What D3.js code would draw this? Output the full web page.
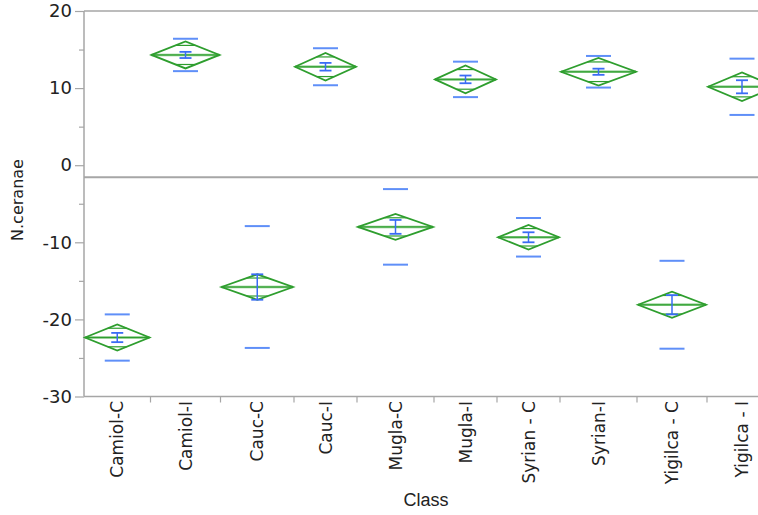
<!DOCTYPE html>
<html><head><meta charset="utf-8">
<script src="https://cdn.jsdelivr.net/npm/d3@7"></script>
<style>body{margin:0;background:#fff}svg{display:block}</style>
</head><body>
<script>
const categories = ["Camiol-C","Camiol-I","Cauc-C","Cauc-I","Mugla-C","Mugla-I","Syrian - C","Syrian-I","Yigilca - C","Yigilca - I"];
const groupN   = [19, 20, 21, 18, 22, 18, 18, 22, 20, 20];
const means    = [-22.35, 14.3, -15.8, 12.77, -8.0, 11.13, -9.35, 12.12, -18.1, 10.17];
const ciHalf   = [1.7, 1.75, 1.65, 1.8, 1.67, 1.8, 1.6, 1.8, 1.7, 1.85];
const seHalf   = [0.6, 0.4, 1.65, 0.5, 0.9, 0.5, 0.65, 0.4, 1.25, 0.85];
const sdHalf   = [3.0, 2.1, 7.9, 2.4, 4.9, 2.3, 2.5, 2.05, 5.7, 3.65];
const grandMean = -1.55;
const yTicks = [-30, -20, -10, 0, 10, 20];
const yMinorTicks = [-25, -15, -5, 5, 15];

const W = 758, H = 515;
const svg = d3.select("body").append("svg").attr("width", W).attr("height", H);

const total = d3.sum(groupN);
const x = d3.scaleLinear().domain([0, total]).range([84, 777]);
const y = d3.scaleLinear().domain([-30, 20]).range([396.5, 11]);
const cum = [0]; groupN.forEach((n,i)=>cum.push(cum[i]+n));

const gray = "#a6a6a6";
// frame
svg.append("line").attr("x1",84).attr("x2",W).attr("y1",y(20)).attr("y2",y(20)).attr("stroke",gray).attr("stroke-width",1.5);
svg.append("line").attr("x1",84).attr("x2",W).attr("y1",y(-30)).attr("y2",y(-30)).attr("stroke",gray).attr("stroke-width",1.5);
svg.append("line").attr("x1",84).attr("x2",84).attr("y1",y(20)).attr("y2",y(-30)).attr("stroke",gray).attr("stroke-width",1.5);
// grand mean
svg.append("line").attr("x1",84).attr("x2",W).attr("y1",y(grandMean)).attr("y2",y(grandMean)).attr("stroke",gray).attr("stroke-width",2);

// y axis
const yAxis = d3.axisLeft(y).tickValues(yTicks).tickSize(9).tickPadding(3).tickFormat(d=>String(d));
const ga = svg.append("g").attr("transform","translate(84,0)").call(yAxis);
ga.select(".domain").remove();
ga.selectAll(".tick line").attr("stroke",gray).attr("stroke-width",1.2);
ga.selectAll(".tick text").attr("font-family","DejaVu Sans").attr("font-size",18).attr("fill","#222");
svg.append("g").attr("transform","translate(84,0)")
  .call(d3.axisLeft(y).tickValues(yMinorTicks).tickSize(5).tickFormat(""))
  .call(g=>g.select(".domain").remove())
  .selectAll(".tick line").attr("stroke",gray).attr("stroke-width",1.2);

// x ticks at boundaries
svg.append("g").selectAll("line").data(cum.slice(1)).join("line")
  .attr("x1",d=>x(d)).attr("x2",d=>x(d)).attr("y1",y(-30)).attr("y2",y(-30)+6)
  .attr("stroke",gray).attr("stroke-width",1.2);
// x labels
svg.append("g").selectAll("text").data(categories).join("text")
  .attr("transform",(d,i)=>`translate(${x((cum[i]+cum[i+1])/2)+6},401) rotate(-90)`)
  .attr("text-anchor","end").attr("font-family","DejaVu Sans").attr("font-size",17).attr("fill","#222")
  .text(d=>d);

svg.append("text").attr("x",426).attr("y",506).attr("text-anchor","middle")
  .attr("font-family","Liberation Sans Narrow, Liberation Sans").attr("font-size",18).attr("fill","#222").text("Class");
svg.append("text").attr("transform","translate(23,200) rotate(-90)").attr("text-anchor","middle")
  .attr("font-family","DejaVu Sans").attr("font-size",16).attr("fill","#222").text("N.ceranae");

// groups
const green = "#2e9e2e", blue = "#3a6cf4", lblue = "#5f8ff8";
categories.forEach((c,i)=>{
  const x0 = x(cum[i])+1, x1 = x(cum[i+1])-1, cx = (x0+x1)/2, hw = (x1-x0)/2;
  const m = means[i], ci = ciHalf[i];
  const g = svg.append("g");
  // mean line
  g.append("line").attr("x1",x0).attr("x2",x1).attr("y1",y(m)).attr("y2",y(m)).attr("stroke","#7cc67c").attr("stroke-width",2.5);
  g.append("line").attr("x1",x0).attr("x2",x1).attr("y1",y(m)).attr("y2",y(m)).attr("stroke",green).attr("stroke-width",1);
  // diamond
  g.append("path").attr("d",`M${x0},${y(m)}L${cx},${y(m+ci)}L${x1},${y(m)}L${cx},${y(m-ci)}Z`)
    .attr("fill","none").attr("stroke",green).attr("stroke-width",1.8).attr("stroke-linejoin","miter");
  // overlap marks
  const ov = ci/Math.SQRT2, ow = hw*(1-1/Math.SQRT2);
  [m+ov, m-ov].forEach(v=>{
    g.append("line").attr("x1",cx-ow).attr("x2",cx+ow).attr("y1",y(v)).attr("y2",y(v)).attr("stroke",green).attr("stroke-width",1.2);
  });
  // SD lines
  [m+sdHalf[i], m-sdHalf[i]].forEach(v=>{
    g.append("line").attr("x1",cx-12.5).attr("x2",cx+12.5).attr("y1",y(v)).attr("y2",y(v)).attr("stroke",lblue).attr("stroke-width",2);
  });
  // SE bar
  const se = seHalf[i];
  g.append("line").attr("x1",cx).attr("x2",cx).attr("y1",y(m+se)).attr("y2",y(m-se)).attr("stroke",blue).attr("stroke-width",1.5);
  [m+se, m-se].forEach(v=>{
    g.append("line").attr("x1",cx-6).attr("x2",cx+6).attr("y1",y(v)).attr("y2",y(v)).attr("stroke",blue).attr("stroke-width",1.8);
  });
});
</script>
</body></html>
